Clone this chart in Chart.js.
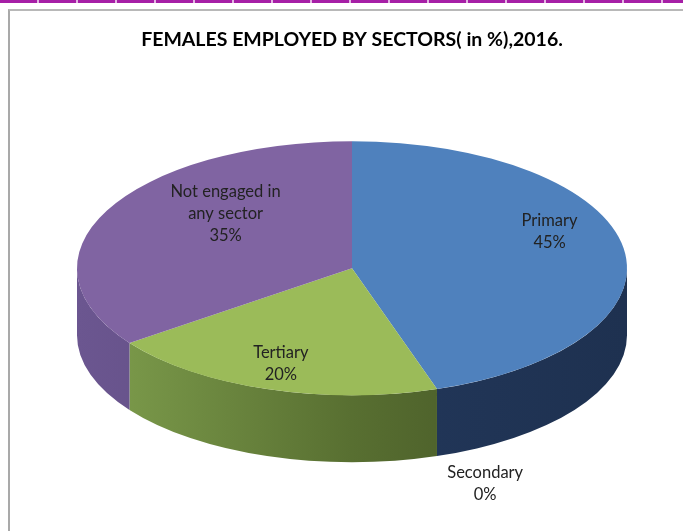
<!DOCTYPE html>
<html>
<head>
<meta charset="utf-8">
<title>Females employed by sectors</title>
<script src="https://cdn.jsdelivr.net/npm/chart.js@4/dist/chart.umd.min.js"></script>
<style>
html, body { margin: 0; padding: 0; background: #fff; overflow: hidden; width: 683px; height: 531px; }
#topline { position: absolute; left: 0; top: 0; width: 683px; height: 3px;
  background: repeating-linear-gradient(90deg, #a61fa6 0 37px, #e3b6e3 37px 39px); }
#frame { position: absolute; left: 8px; top: 9px; width: 720px; height: 540px;
  border-left: 2px solid #a9a9a9; border-top: 2px solid #b8b8b8; }
#wrap { position: absolute; left: 10px; top: 11px; width: 700px; height: 520px; }
</style>
</head>
<body>
<div id="topline"></div>
<div id="frame"></div>
<div id="wrap"><canvas id="pie-chart" width="700" height="520"></canvas></div>
<script>
// data
var sectors = ["Primary", "Secondary", "Tertiary", "Not engaged in any sector"];
var labelLines = [["Primary"], ["Secondary"], ["Tertiary"], ["Not engaged in", "any sector"]];
var percent = [45, 0, 20, 35];

// excel 2007 style colours (top face, then side wall gradient left -> right)
var topColors = ["#4f81bd", "#c0504d", "#9bbb59", "#8064a2"];
var sideColors = [
    ["#2a4468", "#22375a", "#1e3150"],
    ["#8c3a38", "#6e2d2b", "#5a2523"],
    ["#80a04e", "#586f31", "#3c4a21"],
    ["#6b5690", "#5c4a7d", "#4e3f6a"]
];
// label nudges (px) from the default spot inside each slice
var labelNudge = [[2, -22], [72, 128], [-10, 8], [50, -13]];

var tilt = 0.462;   // vertical squash of the pie
var depth = 67;     // thickness of the pie edge

var pie3d = {
    id: "pie3d",
    beforeDatasetsDraw: function (chart) {
        var ctx = chart.ctx;
        var arcs = chart.getDatasetMeta(0).data;
        // side walls, only the front half (0..PI) can be seen
        arcs.forEach(function (arc, i) {
            var p = arc.getProps(["x", "y", "startAngle", "endAngle", "outerRadius"]);
            var a1 = Math.max(p.startAngle, 0);
            var a2 = Math.min(p.endAngle, Math.PI);
            if (a2 <= a1) return;
            var rx = p.outerRadius, ry = rx * tilt;
            var g = ctx.createLinearGradient(p.x - rx, 0, p.x + rx, 0);
            sideColors[i].forEach(function (c, j, arr) {
                g.addColorStop(j / (arr.length - 1), c);
            });
            ctx.beginPath();
            ctx.ellipse(p.x, p.y, rx, ry, 0, a1, a2);
            ctx.ellipse(p.x, p.y + depth, rx, ry, 0, a2, a1, true);
            ctx.closePath();
            ctx.fillStyle = g;
            ctx.fill();
        });
        // squash the top face into an ellipse
        var c = arcs[0];
        ctx.save();
        ctx.translate(c.x, c.y);
        ctx.scale(1, tilt);
        ctx.translate(-c.x, -c.y);
    },
    afterDatasetsDraw: function (chart) {
        var ctx = chart.ctx;
        ctx.restore();
        var arcs = chart.getDatasetMeta(0).data;
        ctx.save();
        ctx.font = "16.5px Lato";
        ctx.fillStyle = "#222";
        ctx.textAlign = "center";
        ctx.textBaseline = "middle";
        arcs.forEach(function (arc, i) {
            var p = arc.getProps(["x", "y", "startAngle", "endAngle", "outerRadius"]);
            var mid = (p.startAngle + p.endAngle) / 2;
            var r = p.outerRadius * 0.72;
            var lx = p.x + Math.cos(mid) * r + labelNudge[i][0];
            var ly = p.y + Math.sin(mid) * r * tilt + labelNudge[i][1];
            var lines = labelLines[i].concat([percent[i] + "%"]);
            var lh = 22;
            var y0 = ly - (lines.length - 1) * lh / 2;
            lines.forEach(function (t, j) {
                ctx.fillText(t, lx, y0 + j * lh);
            });
        });
        ctx.restore();
    }
};

var ctx = document.getElementById("pie-chart").getContext("2d");

var myPieChart = new Chart(ctx, {
    type: "pie",
    data: {
        labels: sectors,
        datasets: [{
            data: percent,
            backgroundColor: topColors,
            borderWidth: 0,
            radius: 275,
            clip: false,
            hoverOffset: 0
        }]
    },
    options: {
        responsive: false,
        animation: false,
        devicePixelRatio: 1,
        events: [],
        layout: { padding: { right: 16, bottom: 56 } },
        plugins: {
            legend: { display: false },
            tooltip: { enabled: false },
            title: {
                display: true,
                text: "FEMALES EMPLOYED BY SECTORS( in %),2016.",
                color: "#000",
                font: { family: "Lato", size: 19.5, weight: "bold" },
                padding: { top: 17, bottom: 10 }
            }
        }
    },
    plugins: [pie3d]
});
</script>
</body>
</html>
